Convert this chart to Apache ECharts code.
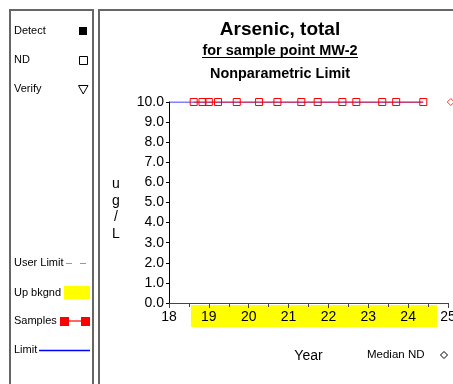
<!DOCTYPE html>
<html>
<head>
<meta charset="utf-8">
<script src="https://cdn.jsdelivr.net/npm/echarts@6/dist/echarts.min.js"></script>
<style>
html,body{margin:0;padding:0;background:#fff;overflow:hidden;}
#chart{width:453px;height:384px;}
</style>
</head>
<body>
<div id="chart"></div>
<script>
// ---- data ----
const sampleYears = [18.62, 18.84, 19.0, 19.23, 19.70, 20.26, 20.72, 21.32, 21.73, 22.35, 22.70, 23.35, 23.70, 24.38];
const sampleValues = [10, 10, 10, 10, 10, 10, 10, 10, 10, 10, 10, 10, 10, 10];
const limitYears = [18, 24.38];
const limitValues = [10, 10];
const medianNDYear = [25.07];
const medianNDValue = [10];
const bkgndRange = [18.55, 24.73];
const xTickMin = 18, xTickMax = 25, xInterval = 1;
const yTickMin = 0, yTickMax = 10, yInterval = 1;

const FONT = 'Liberation Sans, Arial, sans-serif';
const chart = echarts.init(document.getElementById('chart'), null, {renderer: 'canvas'});

const pair = (xs, ys) => xs.map((x, i) => [x, ys[i]]);

const legendText = (txt, x, y) => ({
  type: 'text', x: x, y: y,
  style: {text: txt, fill: '#000', font: '11px ' + FONT, textAlign: 'left', textVerticalAlign: 'middle'}
});

const option = {
  animation: false,
  backgroundColor: '#fff',
  grid: [
    {left: 169, top: 102, right: 5, bottom: 81, outerBoundsMode: 'none', containLabel: false},
    {left: 169, top: 305, right: 5, bottom: 57, outerBoundsMode: 'none', containLabel: false}
  ],
  xAxis: [
    {
      type: 'value', gridIndex: 0, min: xTickMin, max: xTickMax, interval: xInterval, z: 20,
      axisLine: {onZero: false, lineStyle: {color: '#444', width: 1}},
      axisTick: {show: true, length: 5, lineStyle: {color: '#444'}},
      minorTick: {show: true, splitNumber: 2, length: 4, lineStyle: {color: '#444'}},
      splitLine: {show: false},
      axisLabel: {
        color: '#000', fontSize: 14, fontFamily: FONT, margin: 7,
        formatter: v => Number.isInteger(v) ? String(v) : ''
      },
      name: 'Year', nameLocation: 'middle', nameGap: 46,
      nameTextStyle: {color: '#000', fontSize: 14, fontFamily: FONT}
    },
    {
      type: 'value', gridIndex: 1, min: xTickMin, max: xTickMax, show: false
    }
  ],
  yAxis: [
    {
      type: 'value', gridIndex: 0, min: yTickMin, max: yTickMax, interval: yInterval, z: 20,
      axisLine: {show: true, lineStyle: {color: '#000', width: 1}},
      axisTick: {show: true, length: 3, lineStyle: {color: '#000'}},
      splitLine: {show: false},
      axisLabel: {color: '#000', fontSize: 14, fontFamily: FONT, margin: 5, formatter: v => v.toFixed(1)}
    },
    {
      type: 'value', gridIndex: 1, min: 0, max: 1, show: false
    }
  ],
  series: [
    {
      name: 'Up bkgnd', type: 'line', xAxisIndex: 1, yAxisIndex: 1, data: [], z: 1,
      markArea: {
        silent: true,
        itemStyle: {color: '#ffff00'},
        data: [[{xAxis: bkgndRange[0]}, {xAxis: bkgndRange[1]}]]
      }
    },
    {
      name: 'Limit', type: 'line', data: pair(limitYears, limitValues),
      symbol: 'none', lineStyle: {color: '#0000ff', width: 1}, z: 22
    },
    {
      name: 'Samples', type: 'line', data: pair(sampleYears, sampleValues),
      symbol: 'rect', symbolSize: 7, showAllSymbol: true,
      itemStyle: {color: 'rgba(0,0,0,0)', borderColor: '#ff0000', borderWidth: 1},
      lineStyle: {color: '#ff0000', width: 1}, z: 23
    },
    {
      name: 'Median ND', type: 'scatter', data: pair(medianNDYear, medianNDValue),
      symbol: 'diamond', symbolSize: 7, clip: false,
      itemStyle: {color: 'rgba(0,0,0,0)', borderColor: '#ff0000', borderWidth: 1}, z: 23
    }
  ],
  graphic: [
    {type: 'rect', shape: {x: 10, y: 10, width: 83, height: 420}, style: {fill: 'none', stroke: '#666', lineWidth: 2}, z: 100},
    {type: 'rect', shape: {x: 99, y: 10, width: 420, height: 420}, style: {fill: 'none', stroke: '#666', lineWidth: 2}, z: 100},
    // titles
    {type: 'text', x: 280, y: 30, style: {text: 'Arsenic, total', fill: '#000', font: 'bold 19px ' + FONT, textAlign: 'center', textVerticalAlign: 'middle'}},
    {type: 'text', x: 280, y: 50.5, style: {text: 'for sample point MW-2', fill: '#000', font: 'bold 14.5px ' + FONT, textAlign: 'center', textVerticalAlign: 'middle'}},
    {type: 'line', shape: {x1: 202, y1: 57.5, x2: 358, y2: 57.5}, style: {stroke: '#000', lineWidth: 1}},
    {type: 'text', x: 280, y: 74, style: {text: 'Nonparametric Limit', fill: '#000', font: 'bold 14.4px ' + FONT, textAlign: 'center', textVerticalAlign: 'middle'}},
    // y axis name
    {type: 'text', x: 116, y: 209, style: {text: 'u\ng\n/\nL', fill: '#000', font: '14px ' + FONT, textAlign: 'center', textVerticalAlign: 'middle', lineHeight: 16.5}},
    // median ND note
    {type: 'text', x: 367, y: 355, style: {text: 'Median ND', fill: '#000', font: '11.5px ' + FONT, textAlign: 'left', textVerticalAlign: 'middle'}},
    {type: 'polygon', shape: {points: [[444, 351.5], [447.5, 355], [444, 358.5], [440.5, 355]]}, style: {fill: '#fff', stroke: '#000', lineWidth: 1}},
    // left legend
    legendText('Detect', 14, 31),
    {type: 'rect', shape: {x: 79, y: 27, width: 8, height: 8}, style: {fill: '#000'}},
    legendText('ND', 14, 60),
    {type: 'rect', shape: {x: 79.5, y: 56.5, width: 8, height: 8}, style: {fill: '#fff', stroke: '#000', lineWidth: 1}},
    legendText('Verify', 14, 89),
    {type: 'polygon', shape: {points: [[78.5, 85.5], [88, 85.5], [83.25, 94]]}, style: {fill: '#fff', stroke: '#000', lineWidth: 1}},
    legendText('User Limit', 14, 263),
    {type: 'line', shape: {x1: 66, y1: 263.5, x2: 90, y2: 263.5}, style: {stroke: '#00d8e8', lineWidth: 1, lineDash: [6, 8]}},
    legendText('Up bkgnd', 14, 292.5),
    {type: 'rect', shape: {x: 64, y: 286, width: 26, height: 13}, style: {fill: '#ffff00'}},
    legendText('Samples', 14, 321),
    {type: 'line', shape: {x1: 65, y1: 321, x2: 85, y2: 321}, style: {stroke: '#ff6666', lineWidth: 2}},
    {type: 'rect', shape: {x: 60, y: 317, width: 9, height: 9}, style: {fill: '#ff0000'}},
    {type: 'rect', shape: {x: 81, y: 317, width: 9, height: 9}, style: {fill: '#ff0000'}},
    legendText('Limit', 14, 350),
    {type: 'line', shape: {x1: 39, y1: 350.5, x2: 90, y2: 350.5}, style: {stroke: '#0000ff', lineWidth: 1.5}}
  ]
};
chart.setOption(option);
</script>
</body>
</html>
